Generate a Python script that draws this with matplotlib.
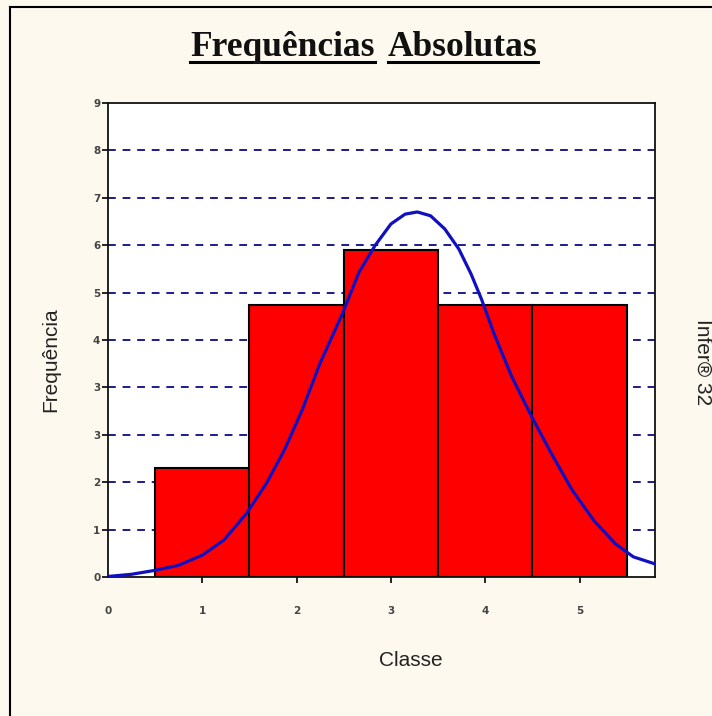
import matplotlib.pyplot as plt
import numpy as np
from matplotlib.lines import Line2D

# dados do histograma
classes = [1, 2, 3, 4, 5]
freq = [2, 5, 6, 5, 5]

# curva normal ajustada
curva_x = [0.0, 0.25, 0.49, 0.74, 1.0, 1.23, 1.47, 1.68, 1.87, 2.06, 2.25, 2.49,
           2.66, 2.83, 3.0, 3.15, 3.28, 3.42, 3.57, 3.72, 3.85, 3.96, 4.09,
           4.28, 4.49, 4.7, 4.92, 5.15, 5.38, 5.57, 5.8]
curva_y = [0.01, 0.05, 0.12, 0.21, 0.4, 0.68, 1.17, 1.72, 2.33, 3.07, 3.93, 4.85,
           5.59, 6.08, 6.48, 6.66, 6.7, 6.63, 6.39, 6.02, 5.56, 5.1, 4.48,
           3.68, 2.95, 2.27, 1.6, 1.04, 0.61, 0.37, 0.24]

ymax = 8.7
ytick_labels = ['0', '1', '2', '3', '3', '4', '5', '6', '7', '8', '9']
xtick_labels = ['0', '1', '2', '3', '4', '5']

fig = plt.figure(figsize=(7.12, 7.16), dpi=100, facecolor='#fef9ee')
ax = fig.add_axes([108/712, 1 - 577/716, (655 - 108)/712, (577 - 103)/716])
ax.set_facecolor('white')

# grade tracejada
yticks = np.linspace(0, ymax, len(ytick_labels))
for y in yticks[1:-1]:
    ax.axhline(y, color='#1c1c8c', lw=1.4, ls=(0, (4, 3.5)), zorder=1)

ax.bar(classes, freq, width=1.0, color='#ff0000', edgecolor='black', lw=1.5, zorder=2)
ax.plot(curva_x, curva_y, color='#1010c0', lw=2.3, zorder=3,
        solid_joinstyle='round')

ax.set_xlim(0, 5.8)
ax.set_ylim(0, ymax)
ax.set_yticks(yticks)
ax.set_yticklabels(ytick_labels)
ax.set_xticks(range(len(xtick_labels)))
ax.set_xticklabels(xtick_labels)
ax.xaxis.get_major_ticks()[0].tick1line.set_visible(False)

ax.tick_params(axis='y', direction='out', length=4, width=1.2, pad=1.5,
               labelsize=7.5, labelcolor='#444444')
ax.tick_params(axis='x', direction='out', length=4, width=1.2, pad=17,
               labelsize=7.5, labelcolor='#444444')
for lab in ax.get_xticklabels() + ax.get_yticklabels():
    lab.set_fontweight('bold')
for s in ax.spines.values():
    s.set_linewidth(1.3)
    s.set_color('#111111')

# rótulos
fig.text(51/712, 1 - 360/716, 'Frequência', rotation=90, ha='center', va='center',
         fontsize=15, family='Liberation Sans', color='#222222')
fig.text(411/712, 1 - 660/716, 'Classe', ha='center', va='center',
         fontsize=15, family='Liberation Sans', color='#222222')
fig.text(703/712, 1 - 362/716, 'Infer® 32', rotation=-90, ha='center', va='center',
         fontsize=15, family='Liberation Sans', color='#222222')

# título sublinhado, palavra por palavra
t1 = fig.text(190/712, 1 - 47/716, 'Frequências', ha='left', va='center',
              fontsize=25.5, family='Liberation Serif', fontweight='bold', color='#111111')
t2 = fig.text(388/712, 1 - 47/716, 'Absolutas', ha='left', va='center',
              fontsize=25.5, family='Liberation Serif', fontweight='bold', color='#111111')
fig.canvas.draw()
r = fig.canvas.get_renderer()
for t in (t1, t2):
    bb = t.get_window_extent(r).transformed(fig.transFigure.inverted())
    fig.add_artist(Line2D([bb.x0, bb.x1], [1 - 62/716] * 2, color='black', lw=2.2,
                          transform=fig.transFigure))

# moldura
fig.add_artist(Line2D([9.5/712, 9.5/712], [0, 1 - 6.5/716], color='black', lw=1.5,
                      transform=fig.transFigure))
fig.add_artist(Line2D([9.5/712, 1], [1 - 6.5/716] * 2, color='black', lw=1.5,
                      transform=fig.transFigure))

fig.savefig('out.png', dpi=100, facecolor=fig.get_facecolor())
